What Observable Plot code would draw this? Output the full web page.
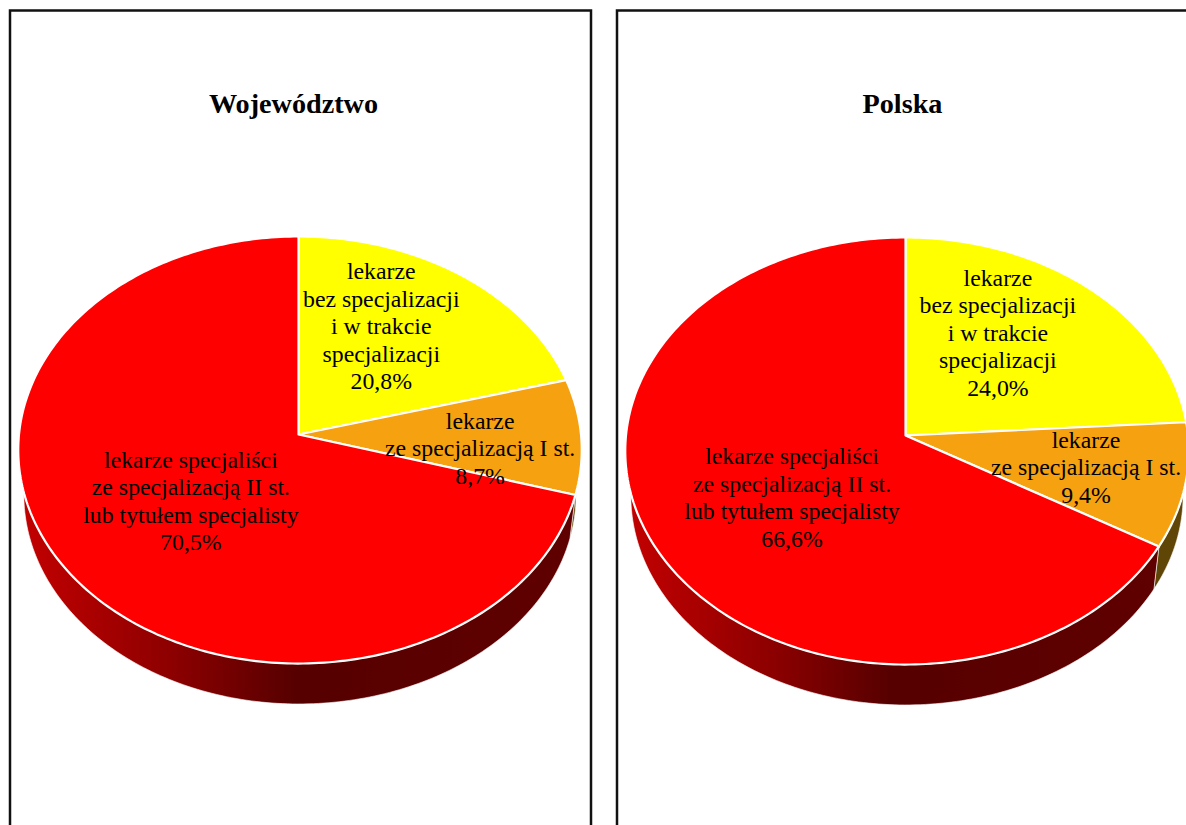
<!DOCTYPE html>
<html lang="pl">
<head>
<meta charset="utf-8">
<script src="https://cdn.jsdelivr.net/npm/d3@7"></script>
<script src="https://cdn.jsdelivr.net/npm/@observablehq/plot@0.6"></script>
<style>
html,body{margin:0;padding:0;background:#fff;overflow:hidden;width:1186px;height:825px}
#charts{display:flex;width:1186px;height:825px}
svg{display:block;max-width:none}
</style>
</head>
<body>
<div id="charts"></div>
<script>
// ---- data ----
const titles = ["Województwo", "Polska"];
const categories = ["yellow", "orange", "red"];
const labels = [
  "lekarze\nbez specjalizacji\ni w trakcie\nspecjalizacji",
  "lekarze\nze specjalizacją I st.",
  "lekarze specjaliści\nze specjalizacją II st.\nlub tytułem specjalisty"
];
const wojewodztwoValues = [20.8, 8.7, 70.5];
const polskaValues = [24.0, 9.4, 66.6];
const wojewodztwoText = ["20,8%", "8,7%", "70,5%"];
const polskaText = ["24,0%", "9,4%", "66,6%"];

// ---- layout and style ----
const faceColors = {yellow: "#ffff00", orange: "#f6a10f", red: "#ff0000"};
const wallColors = {yellow: "#666600", orange: "#5f4506", red: "url(#wall)"};
const serif = "'Liberation Serif', 'Times New Roman', serif";
const tilt = 0.0726, radiusLeft = 279.5, radiusRight = 282.5, radiusY = 212.4, depth = 0.212, rimShrink = 0.98;
const panels = [
  {width: 600, apexX: 298, apexY: 434, titleX: 293, insetLeft: 9.5, insetRight: 9.5,
   anchors: [[0.293, 0.514], [0.643, -0.061], [-0.385, -0.309]]},
  {width: 586, apexX: 305, apexY: 435, titleX: 302, insetLeft: 16.5, insetRight: -30,
   anchors: [[0.327, 0.488], [0.639, -0.145], [-0.406, -0.288]]}
];

const project = (deg, s = 1) => {
  const t = deg * Math.PI / 180, w = 1 + tilt * Math.cos(t);
  return {x: s * Math.sin(t) / w, y: s * Math.cos(t) / w};
};
const arcDegrees = (a0, a1) => {
  const n = Math.ceil(Math.abs(a1 - a0));
  return d3.range(n + 1).map(i => a0 + (a1 - a0) * i / n);
};

function pieChart(values, text, title, panel) {
  const {width, apexX, apexY, titleX, insetLeft, insetRight, anchors} = panel;
  const total = d3.sum(values);
  const stops = d3.cumsum(values).map(v => v / total * 360);
  const slices = categories.map((c, i) => ({c, a0: i ? stops[i - 1] : 0, a1: stops[i]}));

  const wallMarks = slices.map(({c, a0, a1}) => {
    const top = arcDegrees(a0, a1).map(d => project(d));
    const bottom = arcDegrees(a1, a0).map(d => {
      const p = project(d, rimShrink);
      return {x: p.x, y: p.y - depth};
    });
    return Plot.line([...top, ...bottom], {
      x: "x", y: "y", curve: "linear-closed",
      fill: wallColors[c], stroke: "#ffffff", strokeWidth: 0.6
    });
  });
  const faceMarks = slices.map(({c, a0, a1}) =>
    Plot.line([{x: 0, y: 0}, ...arcDegrees(a0, a1).map(d => project(d))], {
      x: "x", y: "y", curve: "linear-closed",
      fill: faceColors[c], stroke: "#ffffff", strokeWidth: 2.2
    })
  );
  const labelData = categories.map((c, i) => ({
    x: anchors[i][0], y: anchors[i][1], text: labels[i] + "\n" + text[i]
  }));

  return Plot.plot({
    width, height: 825, margin: 0,
    style: {background: "#ffffff", overflow: "hidden"},
    x: {type: "linear", axis: null, domain: [-1, 0, 1], range: [apexX - radiusLeft, apexX, apexX + radiusRight]},
    y: {axis: null, domain: [-1, 1], range: [apexY + radiusY, apexY - radiusY]},
    marks: [
      () => {
        const ns = "http://www.w3.org/2000/svg";
        const defs = document.createElementNS(ns, "defs");
        const g = document.createElementNS(ns, "linearGradient");
        g.setAttribute("id", "wall");
        [[0, "#c40000"], [0.27, "#8e0000"], [0.5, "#560000"], [1, "#600000"]].forEach(([o, col]) => {
          const s = document.createElementNS(ns, "stop");
          s.setAttribute("offset", o);
          s.setAttribute("stop-color", col);
          g.appendChild(s);
        });
        defs.appendChild(g);
        return defs;
      },
      Plot.frame({stroke: "#111111", strokeWidth: 2.5, insetLeft, insetRight, insetTop: 10, insetBottom: -30}),
      ...wallMarks,
      ...faceMarks,
      Plot.text(labelData, {
        x: "x", y: "y", text: "text", textAnchor: "middle", lineAnchor: "middle",
        lineHeight: 1.155, fontSize: 23.8, fontFamily: serif, fill: "#000000"
      }),
      Plot.text([title], {
        frameAnchor: "top-left", dx: titleX, dy: 103, textAnchor: "middle", lineAnchor: "middle",
        fontSize: 28.2, fontWeight: "bold", fontFamily: serif, fill: "#000000"
      })
    ]
  });
}

const host = document.getElementById("charts");
host.append(
  pieChart(wojewodztwoValues, wojewodztwoText, titles[0], panels[0]),
  pieChart(polskaValues, polskaText, titles[1], panels[1])
);
</script>
</body>
</html>
